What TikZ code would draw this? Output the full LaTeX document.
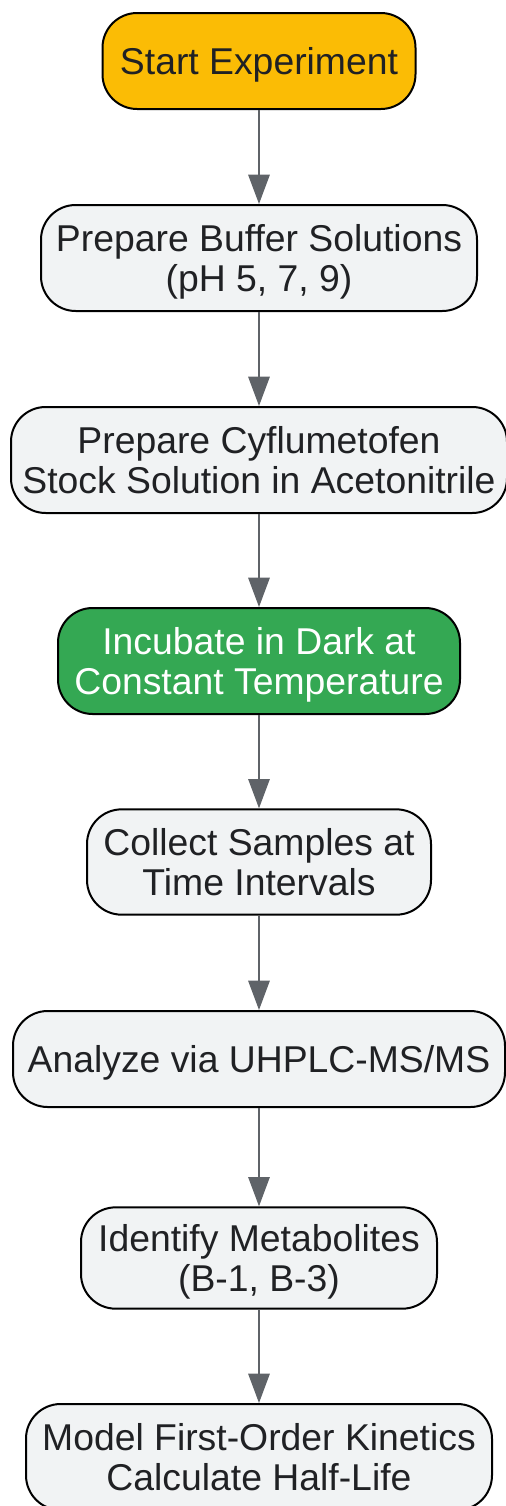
\documentclass[tikz,border=0pt]{standalone}
\usepackage{fontspec}
\setmainfont{Liberation Sans}
\usetikzlibrary{arrows.meta}

\definecolor{startfill}{HTML}{FBBC05}
\definecolor{keyfill}{HTML}{34A853}
\definecolor{stepfill}{HTML}{F1F3F4}
\definecolor{flowgray}{HTML}{5F6368}
\definecolor{textdark}{HTML}{202124}

\tikzset{
  stepbox/.style={draw=black, line width=1.5pt, rounded corners=26pt, fill=stepfill,
    text=textdark, align=center, inner sep=0pt, text depth=0pt,
    font=\fontsize{28}{30}\selectfont},
  flow/.style={draw=flowgray, line width=1.5pt, -{Triangle[length=22pt,width=16pt]}}
}

\begin{document}
\begin{tikzpicture}[x=0.75pt,y=0.75pt,yscale=-1,xscale=1]
        \useasboundingbox (0,0) rectangle (506,1506);

        % Steps
        \node (start) [stepbox, fill=startfill, minimum width=234.75pt, minimum height=72pt] at (259,61) {Start Experiment};
        \node (buffer) [stepbox, minimum width=327pt, minimum height=79.5pt] at (259,258) {Prepare Buffer Solutions\\(pH 5, 7, 9)};
        \node (stock) [stepbox, minimum width=372pt, minimum height=79.5pt] at (259,460) {Prepare Cyflumetofen\\Stock Solution in Acetonitrile};
        \node (incubate) [stepbox, fill=keyfill, text=white, minimum width=301.5pt, minimum height=79.5pt] at (259,661) {Incubate in Dark at\\Constant Temperature};
        \node (collect) [stepbox, minimum width=258pt, minimum height=79pt] at (259,862) {Collect Samples at\\Time Intervals};
        \node (analyze) [stepbox, minimum width=369pt, minimum height=72pt] at (259,1059) {Analyze via UHPLC-MS/MS};
        \node (identify) [stepbox, minimum width=267pt, minimum height=76pt] at (259,1258) {Identify Metabolites\\(B-1, B-3)};
        \node (model) [stepbox, minimum width=349.5pt, minimum height=79.5pt] at (259,1457) {Model First-Order Kinetics\\Calculate Half-Life};

        % Connectors
        \draw [flow] (start) -- (buffer);
        \draw [flow] (buffer) -- (stock);
        \draw [flow] (stock) -- (incubate);
        \draw [flow] (incubate) -- (collect);
        \draw [flow] (collect) -- (analyze);
        \draw [flow] (analyze) -- (identify);
        \draw [flow] (identify) -- (model);

\end{tikzpicture}
\end{document}
